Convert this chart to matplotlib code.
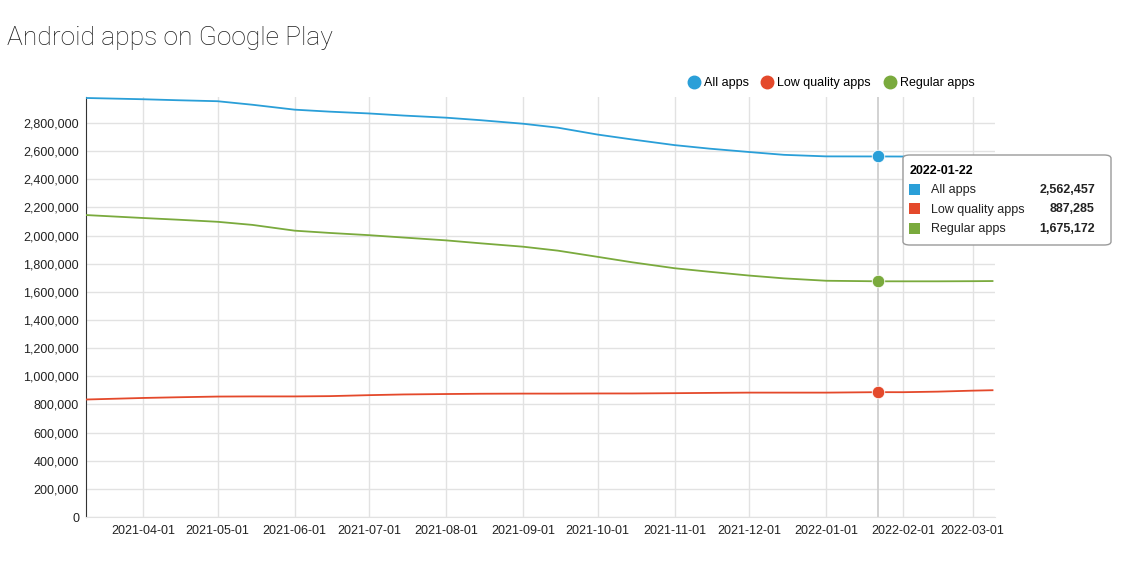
import matplotlib.pyplot as plt
import matplotlib.dates as mdates
from matplotlib.lines import Line2D
from matplotlib.patches import FancyBboxPatch, Rectangle
from matplotlib.ticker import FuncFormatter, MultipleLocator
import pandas as pd

# Series (roughly twice a month)
dates = pd.to_datetime([
    '2021-03-09', '2021-04-01', '2021-04-15', '2021-05-01', '2021-05-15',
    '2021-06-01', '2021-06-15', '2021-07-01', '2021-07-15', '2021-08-01',
    '2021-08-15', '2021-09-01', '2021-09-15', '2021-10-01', '2021-10-15',
    '2021-11-01', '2021-11-15', '2021-12-01', '2021-12-15', '2022-01-01',
    '2022-01-22', '2022-02-01', '2022-02-15', '2022-03-01', '2022-03-09',
])
all_apps = [2978000, 2969000, 2962000, 2955000, 2930000,
            2895000, 2881000, 2868000, 2853000, 2838000,
            2820000, 2795000, 2767000, 2718000, 2683000,
            2643000, 2618000, 2594000, 2574000, 2563000,
            2562457, 2562000, 2562000, 2564000, 2566000]
low_quality = [835000, 846000, 851000, 856000, 857000,
               857000, 859000, 866000, 871000, 874000,
               876000, 877000, 877000, 878000, 878000,
               880000, 882000, 884000, 884000, 884000,
               887285, 887000, 891000, 898000, 901000]
regular = [2146000, 2125000, 2113000, 2098000, 2076000,
           2035000, 2019000, 2003000, 1986000, 1966000,
           1945000, 1921000, 1893000, 1849000, 1810000,
           1768000, 1743000, 1716000, 1696000, 1679000,
           1675172, 1675000, 1675000, 1676000, 1677000]

series_names = ['All apps', 'Low quality apps', 'Regular apps']
series_colors = ['#2a9fd8', '#e4492b', '#7aaa3d']
hover_date = pd.Timestamp('2022-01-22')

W, H = 1137, 563
fig = plt.figure(figsize=(W / 100, H / 100), dpi=100)
plt.rcParams['font.family'] = ['Liberation Sans', 'DejaVu Sans']


def fx(x):
    return x / W


def fy(y):
    return 1 - y / H


ax = fig.add_axes([fx(86), fy(517), fx(995 - 86), (517 - 97) / H])

for vals, color in zip([all_apps, low_quality, regular], series_colors):
    ax.plot(dates, vals, color=color, lw=1.3, solid_joinstyle='round', zorder=3)

# hover crosshair and markers
ax.axvline(hover_date, color='#cfcfcf', lw=1.3, zorder=2)
hi = list(dates).index(hover_date)
for vals, color in zip([all_apps, low_quality, regular], series_colors):
    ax.plot([dates[hi]], [vals[hi]], 'o', color=color, ms=9, mec='white',
            mew=0.6, zorder=4)

ax.set_xlim(pd.Timestamp('2021-03-09'), pd.Timestamp('2022-03-10'))
ax.set_ylim(0, 2985000)
ax.yaxis.set_major_locator(MultipleLocator(200000))
ax.yaxis.set_major_formatter(FuncFormatter(lambda v, p: f'{int(v):,}'))
ax.xaxis.set_major_locator(mdates.MonthLocator())
ax.xaxis.set_major_formatter(mdates.DateFormatter('%Y-%m-%d'))

ax.grid(True, color='#e2e2e2', lw=1)
ax.set_axisbelow(True)
for s in ['top', 'right']:
    ax.spines[s].set_visible(False)
ax.spines['bottom'].set_color('#e2e2e2')
ax.spines['left'].set_color('#333333')
ax.tick_params(axis='both', length=0, labelsize=9, colors='#222222')
ax.tick_params(axis='y', pad=5)
ax.tick_params(axis='x', pad=6)

fig.text(fx(7), fy(38), 'Android apps on Google Play', fontsize=19,
         family=['Roboto', 'DejaVu Sans'], fontweight='light',
         color='#1e1e1e', va='center', ha='left')

handles = [Line2D([], [], marker='o', ls='none', color=c, ms=9, label=n)
           for n, c in zip(series_names, series_colors)]
fig.legend(handles=handles, loc='center', ncol=3, frameon=False,
           bbox_to_anchor=(fx(831), fy(83)), fontsize=9,
           handletextpad=0.3, columnspacing=1.0, handlelength=1.0)

# tooltip box
box = FancyBboxPatch((fx(903), fy(245)), fx(1111 - 903), (245 - 155) / H,
                     boxstyle='round,pad=0,rounding_size=0.006',
                     transform=fig.transFigure, facecolor='white',
                     edgecolor='#9a9a9a', lw=1, zorder=10)
fig.patches.append(box)
fig.text(fx(910), fy(171), hover_date.strftime('%Y-%m-%d'), fontsize=9,
         fontweight='bold', va='center', ha='left', zorder=11)
row_vals = [all_apps[hi], low_quality[hi], regular[hi]]
for i, (n, c, v) in enumerate(zip(series_names, series_colors, row_vals)):
    yy = 190 + i * 19.5
    fig.patches.append(Rectangle((fx(909), fy(yy + 5)), fx(11), 11 / H,
                                 transform=fig.transFigure, facecolor=c,
                                 edgecolor='none', zorder=11))
    fig.text(fx(931), fy(yy), n, fontsize=9, va='center', ha='left',
             color='#222222', zorder=11)
    fig.text(fx(1095), fy(yy), f'{v:,}', fontsize=9, va='center', ha='right',
             fontweight='bold', color='#222222', zorder=11)

plt.savefig('out.png', dpi=100)
